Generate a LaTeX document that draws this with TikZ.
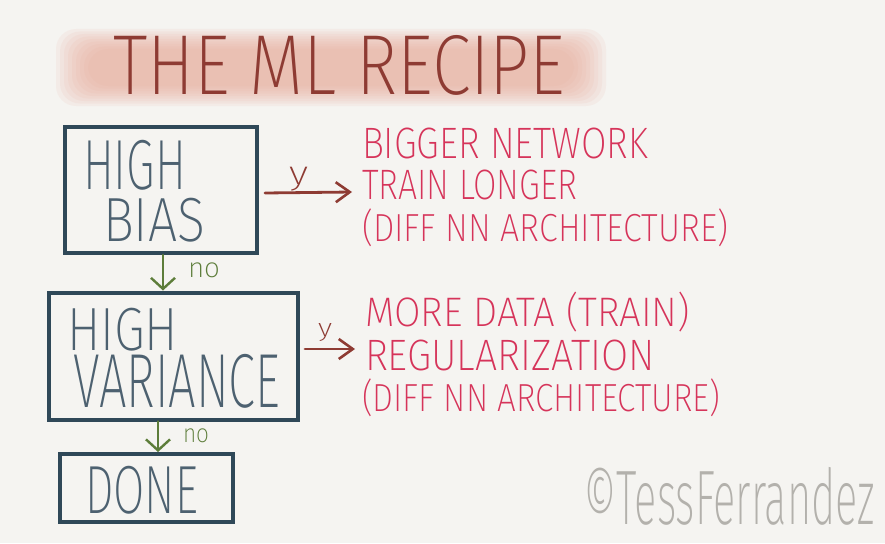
\documentclass[tikz,border=0pt]{standalone}
\usepackage{fontspec}
\usepackage{graphicx}
\setmainfont{Fira Sans ExtraLight}
\usetikzlibrary{arrows.meta}
\definecolor{bg}{HTML}{F5F4F1}
\definecolor{band}{HTML}{E8A896}
\definecolor{titlec}{HTML}{8E3B33}
\definecolor{boxc}{HTML}{2F4858}
\definecolor{boxtxt}{HTML}{4D6170}
\definecolor{redtxt}{HTML}{D6345A}
\definecolor{redarr}{HTML}{8E3B33}
\definecolor{greenc}{HTML}{5D7D3A}
\definecolor{sigc}{HTML}{B3B1AC}
\newcommand\hfit[3]{\resizebox*{#1pt}{#2pt}{#3}}
\begin{document}
\begin{tikzpicture}[x=1pt,y=-1pt,
  txt/.style={inner sep=0pt,outer sep=0pt,anchor=north west},
  boxn/.style={draw=boxc,line width=4pt,inner sep=0pt},
  garrow/.style={draw=greenc,line width=2.6pt,line cap=round,
    -{Straight Barb[length=11pt,width=24pt,line width=2.4pt]}},
  rarrow/.style={draw=redarr,line width=2.8pt,line cap=round,
    -{Straight Barb[length=14pt,width=20pt,line width=2.6pt]}}]
\fill[bg] (0,0) rectangle (885,543);
\useasboundingbox (0,0) rectangle (885,543);
% title band (soft watercolour wash)
\foreach \i in {0,...,8}{
  \fill[band,opacity=0.11,rounded corners=20pt]
    ({56+\i*4},{29+\i*2.5}) rectangle ({606-\i*4},{106-\i*2.5});
}
\node[txt,text=titlec] (title) at (113,35) {\hfit{452}{60}{THE ML RECIPE}};
% boxes
\node[boxn,minimum width=192pt,minimum height=126pt] (b1) at (161,190) {};
\node[boxn,minimum width=249pt,minimum height=127pt] (b2) at (173.5,356) {};
\node[boxn,minimum width=173pt,minimum height=68pt] (b3) at (146.5,488) {};
% box texts
\node[txt,text=boxtxt] (h1) at (83,140) {\hfit{103}{50}{HIGH}};
\node[txt,text=boxtxt] (bi) at (103,198) {\hfit{102}{44}{BIAS}};
\node[txt,text=boxtxt] (h2) at (67,308) {\hfit{111}{43}{HIGH}};
\node[txt,text=boxtxt] (va) at (73,354) {\hfit{207}{54}{VARIANCE}};
\node[txt,text=boxtxt] (dn) at (85,466) {\hfit{113}{48}{DONE}};
% green arrows
\draw[garrow] ([xshift=2pt]b1.south) -- ([xshift=2pt]b1.south |- b2.north);
\node[txt,text=greenc] (no1) at (188,263) {\hfit{32}{15}{no}};
\draw[garrow] ([xshift=-3pt]b1.south |- b2.south) -- ([xshift=-3pt]b1.south |- b3.north);
\node[txt,text=greenc] (no2) at (183,429) {\hfit{26}{14}{no}};
% red text
\node[txt,text=redtxt] (t1) at (362,128) {\hfit{286}{31}{BIGGER NETWORK}};
\node[txt,text=redtxt] (t2) at (362,170) {\hfit{215}{30}{TRAIN LONGER}};
\node[txt,text=redtxt] (t3) at (362,209) {\hfit{366}{38}{(DIFF NN ARCHITECTURE)}};
\node[txt,text=redtxt] (t4) at (365,292) {\hfit{325}{40}{MORE DATA (TRAIN)}};
\node[txt,text=redtxt] (t5) at (365,340) {\hfit{290}{31}{REGULARIZATION}};
\node[txt,text=redtxt] (t6) at (362,379) {\hfit{358}{38}{(DIFF NN ARCHITECTURE)}};
% red arrows
\coordinate (e1) at (352,192);
\coordinate (e2) at (355,349);
\draw[rarrow] ([xshift=6pt,yshift=-3pt]b1.east) -- (e1);
\node[txt,text=redarr] (y1) at (289,167) {\hfit{19}{24}{y}};
\draw[rarrow] ([xshift=5pt,yshift=7pt]b2.east) -- (e2);
\node[txt,text=redarr] (y2) at (318,323) {\hfit{14}{18}{y}};
% signature
\node[txt,text=sigc] (sig) at (583,467) {\hfit{292}{58}{©TessFerrandez}};
\end{tikzpicture}
\end{document}
